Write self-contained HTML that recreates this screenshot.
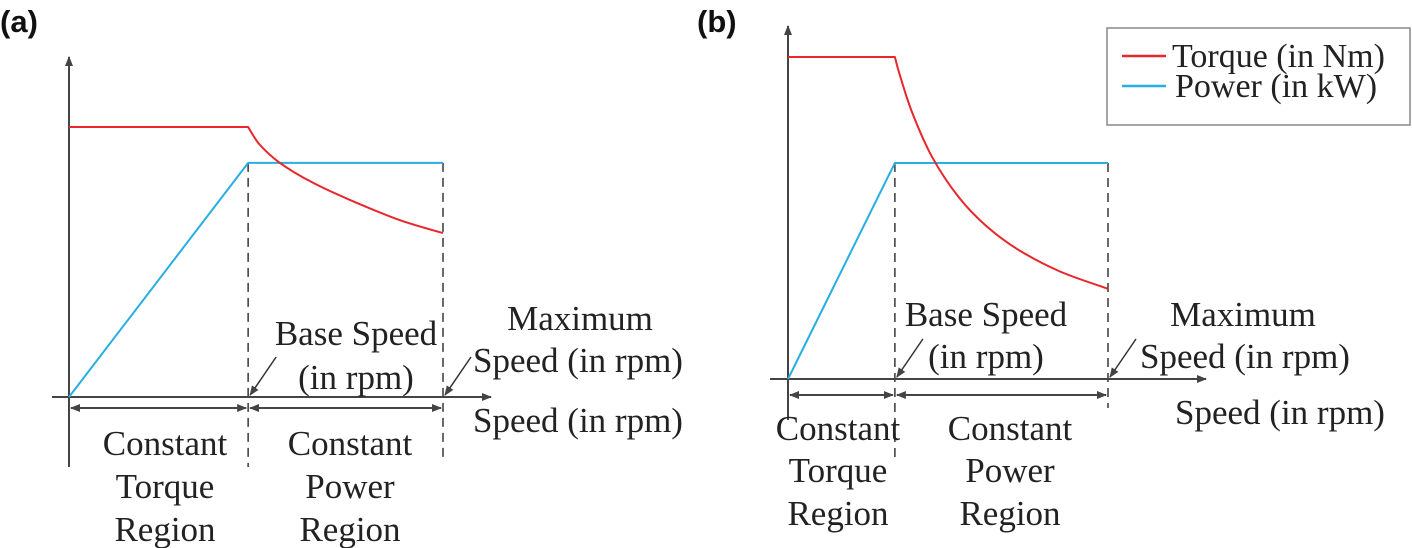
<!DOCTYPE html>
<html><head><meta charset="utf-8"><style>
html,body{margin:0;padding:0;background:#fff;}
svg{display:block;}
text{font-family:"Liberation Serif",serif;fill:#222;}
.lbl{font-family:"Liberation Sans",sans-serif;font-weight:bold;fill:#111;}
</style></head><body>
<svg id="chart" width="1412" height="548" viewBox="0 0 1412 548">
<defs>
<marker id="ah" markerWidth="10" markerHeight="10" refX="9" refY="5" orient="auto-start-reverse" markerUnits="userSpaceOnUse"><path d="M0,1 L10,5 L0,9 z" fill="#444"/></marker>
</defs>
<text class="lbl" x="0" y="32" font-size="31">(a)</text>
<text class="lbl" x="697" y="32" font-size="31">(b)</text>
<g id="pa"></g>
<g id="pb"></g>
<g>
<rect x="1107" y="28" width="303" height="97" fill="#fff" stroke="#888" stroke-width="1.5"/>
<line x1="1122" y1="56" x2="1166" y2="56" stroke="#e8262b" stroke-width="2.5"/>
<text x="1172" y="67" font-size="34">Torque (in Nm)</text>
<line x1="1122" y1="86" x2="1166" y2="86" stroke="#27aee3" stroke-width="2.5"/>
<text x="1175" y="97" font-size="34">Power (in kW)</text>
</g>
</svg>
<script>
// Panel (a) data (normalized speed 0..10, values 0..10)
const aBaseSpeed = 4.79;
const aTorqueMax = 10;
const aPowerMax = 8.67;
const aTorqueSpeeds = [4.79, 5.1, 5.64, 6.5, 7.51, 8.85, 10];
const aTorqueValues = [10, 9.35, 8.67, 7.95, 7.3, 6.55, 6.07];
// Panel (b) data
const bBaseSpeed = 3.34;
const bTorqueMax = 10;
const bPowerMax = 6.71;
const bTorqueSpeeds = [3.34, 3.5, 3.875, 4.5, 5.34, 6.2, 7.19, 8.5, 10];
const bTorqueValues = [10, 9.42, 8.29, 6.9, 5.64, 4.75, 4.02, 3.34, 2.8];

const NS = "http://www.w3.org/2000/svg";
function mk(parent, tag, attrs, txt) {
  const e = document.createElementNS(NS, tag);
  for (const k in attrs) e.setAttribute(k, attrs[k]);
  if (txt !== undefined) e.textContent = txt;
  parent.appendChild(e);
  return e;
}
function smoothSegs(p) {
  let d = '';
  for (let i = 0; i < p.length - 1; i++) {
    const p0 = p[Math.max(0, i - 1)], p1 = p[i], p2 = p[i + 1], p3 = p[Math.min(p.length - 1, i + 2)];
    const c1 = [p1[0] + (p2[0] - p0[0]) / 6, p1[1] + (p2[1] - p0[1]) / 6];
    const c2 = [p2[0] - (p3[0] - p1[0]) / 6, p2[1] - (p3[1] - p1[1]) / 6];
    d += ' C' + c1.map(v => v.toFixed(1)).join(',') + ' ' + c2.map(v => v.toFixed(1)).join(',') + ' ' + p2[0].toFixed(1) + ',' + p2[1].toFixed(1);
  }
  return d;
}

function panel(g, cfg, base, tMax, pMax, ts, tv) {
  const sx = v => cfg.x0 + (cfg.x1 - cfg.x0) * v / 10;
  const sy = v => cfg.y0 - (cfg.y0 - cfg.yTop) * v / 10;
  const ax = sx(0), ay = sy(0), bx = sx(base), mx = sx(10);
  let e;
  e = mk(g, 'line', {x1: ax, y1: cfg.yAxisBottom, x2: ax, y2: cfg.yArrow, stroke: '#444', 'stroke-width': 2, 'marker-end': 'url(#ah)'});
  
  
  e = mk(g, 'line', {x1: cfg.xAxisStart, y1: ay, x2: cfg.xArrow, y2: ay, stroke: '#444', 'stroke-width': 2, 'marker-end': 'url(#ah)'});
  
  
  e = mk(g, 'line', {x1: bx, y1: sy(pMax), x2: bx, y2: cfg.baseDashBottom, stroke: '#444', 'stroke-width': 1.6, 'stroke-dasharray': '9,6'});
  
  
  e = mk(g, 'line', {x1: mx, y1: sy(pMax), x2: mx, y2: cfg.maxDashBottom, stroke: '#444', 'stroke-width': 1.6, 'stroke-dasharray': '9,6'});
  
  
  e = mk(g, 'line', {x1: ax + 2, y1: cfg.arrowY, x2: bx - 2, y2: cfg.arrowY, stroke: '#444', 'stroke-width': 2, 'marker-start': 'url(#ah)', 'marker-end': 'url(#ah)'});
  
  
  e = mk(g, 'line', {x1: bx + 2, y1: cfg.arrowY, x2: mx - 2, y2: cfg.arrowY, stroke: '#444', 'stroke-width': 2, 'marker-start': 'url(#ah)', 'marker-end': 'url(#ah)'});
  
  
  e = mk(g, 'line', {x1: bx + 28, y1: ay - 40, x2: bx + 2, y2: ay - 2, stroke: '#333', 'stroke-width': 1.5, 'marker-end': 'url(#ah)'});
  
  
  e = mk(g, 'line', {x1: mx + 28, y1: ay - 40, x2: mx + 2, y2: ay - 2, stroke: '#333', 'stroke-width': 1.5, 'marker-end': 'url(#ah)'});
  
  
  e = mk(g, 'polyline', {points: `${ax},${ay} ${bx},${sy(pMax)} ${mx},${sy(pMax)}`, fill: 'none', stroke: '#27aee3', 'stroke-width': 2});
  
  
  let pts = [];
  for (let i = 0; i < ts.length; i++) pts.push([sx(ts[i]), sy(tv[i])]);
  let d = 'M' + ax + ',' + sy(tMax).toFixed(1) + ' L' + pts[0][0].toFixed(1) + ',' + pts[0][1].toFixed(1) + smoothSegs(pts);
  e = mk(g, 'path', {d: d, fill: 'none', stroke: '#e8262b', 'stroke-width': 2, 'stroke-linejoin': 'round'});
  
  
  for (const t of cfg.texts) {
    e = mk(g, 'text', {x: t[0], y: t[1], 'font-size': 35, 'text-anchor': 'middle'}, t[2]);
    
    
  }
}

panel(document.getElementById('pa'), {
  x0: 69, x1: 443, y0: 397, yTop: 127, yArrow: 57, yAxisBottom: 467, xAxisStart: 52, xArrow: 491,
  baseDashBottom: 467, maxDashBottom: 460, arrowY: 408,
  texts: [
    [356, 345, 'Base Speed', 'base-speed-label'], [356, 389, '(in rpm)', 'base-speed-unit'],
    [580, 330, 'Maximum', 'max-speed-label'], [578, 372, 'Speed (in rpm)', 'max-speed-unit'],
    [578, 432, 'Speed (in rpm)', 'x-axis-title'],
    [165, 455, 'Constant', 'ct-region-1'], [165, 498, 'Torque', 'ct-region-2'], [165, 541, 'Region', 'ct-region-3'],
    [350, 455, 'Constant', 'cp-region-1'], [350, 498, 'Power', 'cp-region-2'], [350, 541, 'Region', 'cp-region-3']
  ]
}, aBaseSpeed, aTorqueMax, aPowerMax, aTorqueSpeeds, aTorqueValues);

panel(document.getElementById('pb'), {
  x0: 788, x1: 1108, y0: 379, yTop: 57, yArrow: 26, yAxisBottom: 420, xAxisStart: 770, xArrow: 1206,
  baseDashBottom: 462, maxDashBottom: 408, arrowY: 395,
  texts: [
    [986, 326, 'Base Speed', 'base-speed-label'], [986, 368, '(in rpm)', 'base-speed-unit'],
    [1243, 326, 'Maximum', 'max-speed-label'], [1245, 368, 'Speed (in rpm)', 'max-speed-unit'],
    [1280, 424, 'Speed (in rpm)', 'x-axis-title'],
    [838, 440, 'Constant', 'ct-region-1'], [838, 482, 'Torque', 'ct-region-2'], [838, 525, 'Region', 'ct-region-3'],
    [1010, 440, 'Constant', 'cp-region-1'], [1010, 482, 'Power', 'cp-region-2'], [1010, 525, 'Region', 'cp-region-3']
  ]
}, bBaseSpeed, bTorqueMax, bPowerMax, bTorqueSpeeds, bTorqueValues);
</script>
</body></html>
